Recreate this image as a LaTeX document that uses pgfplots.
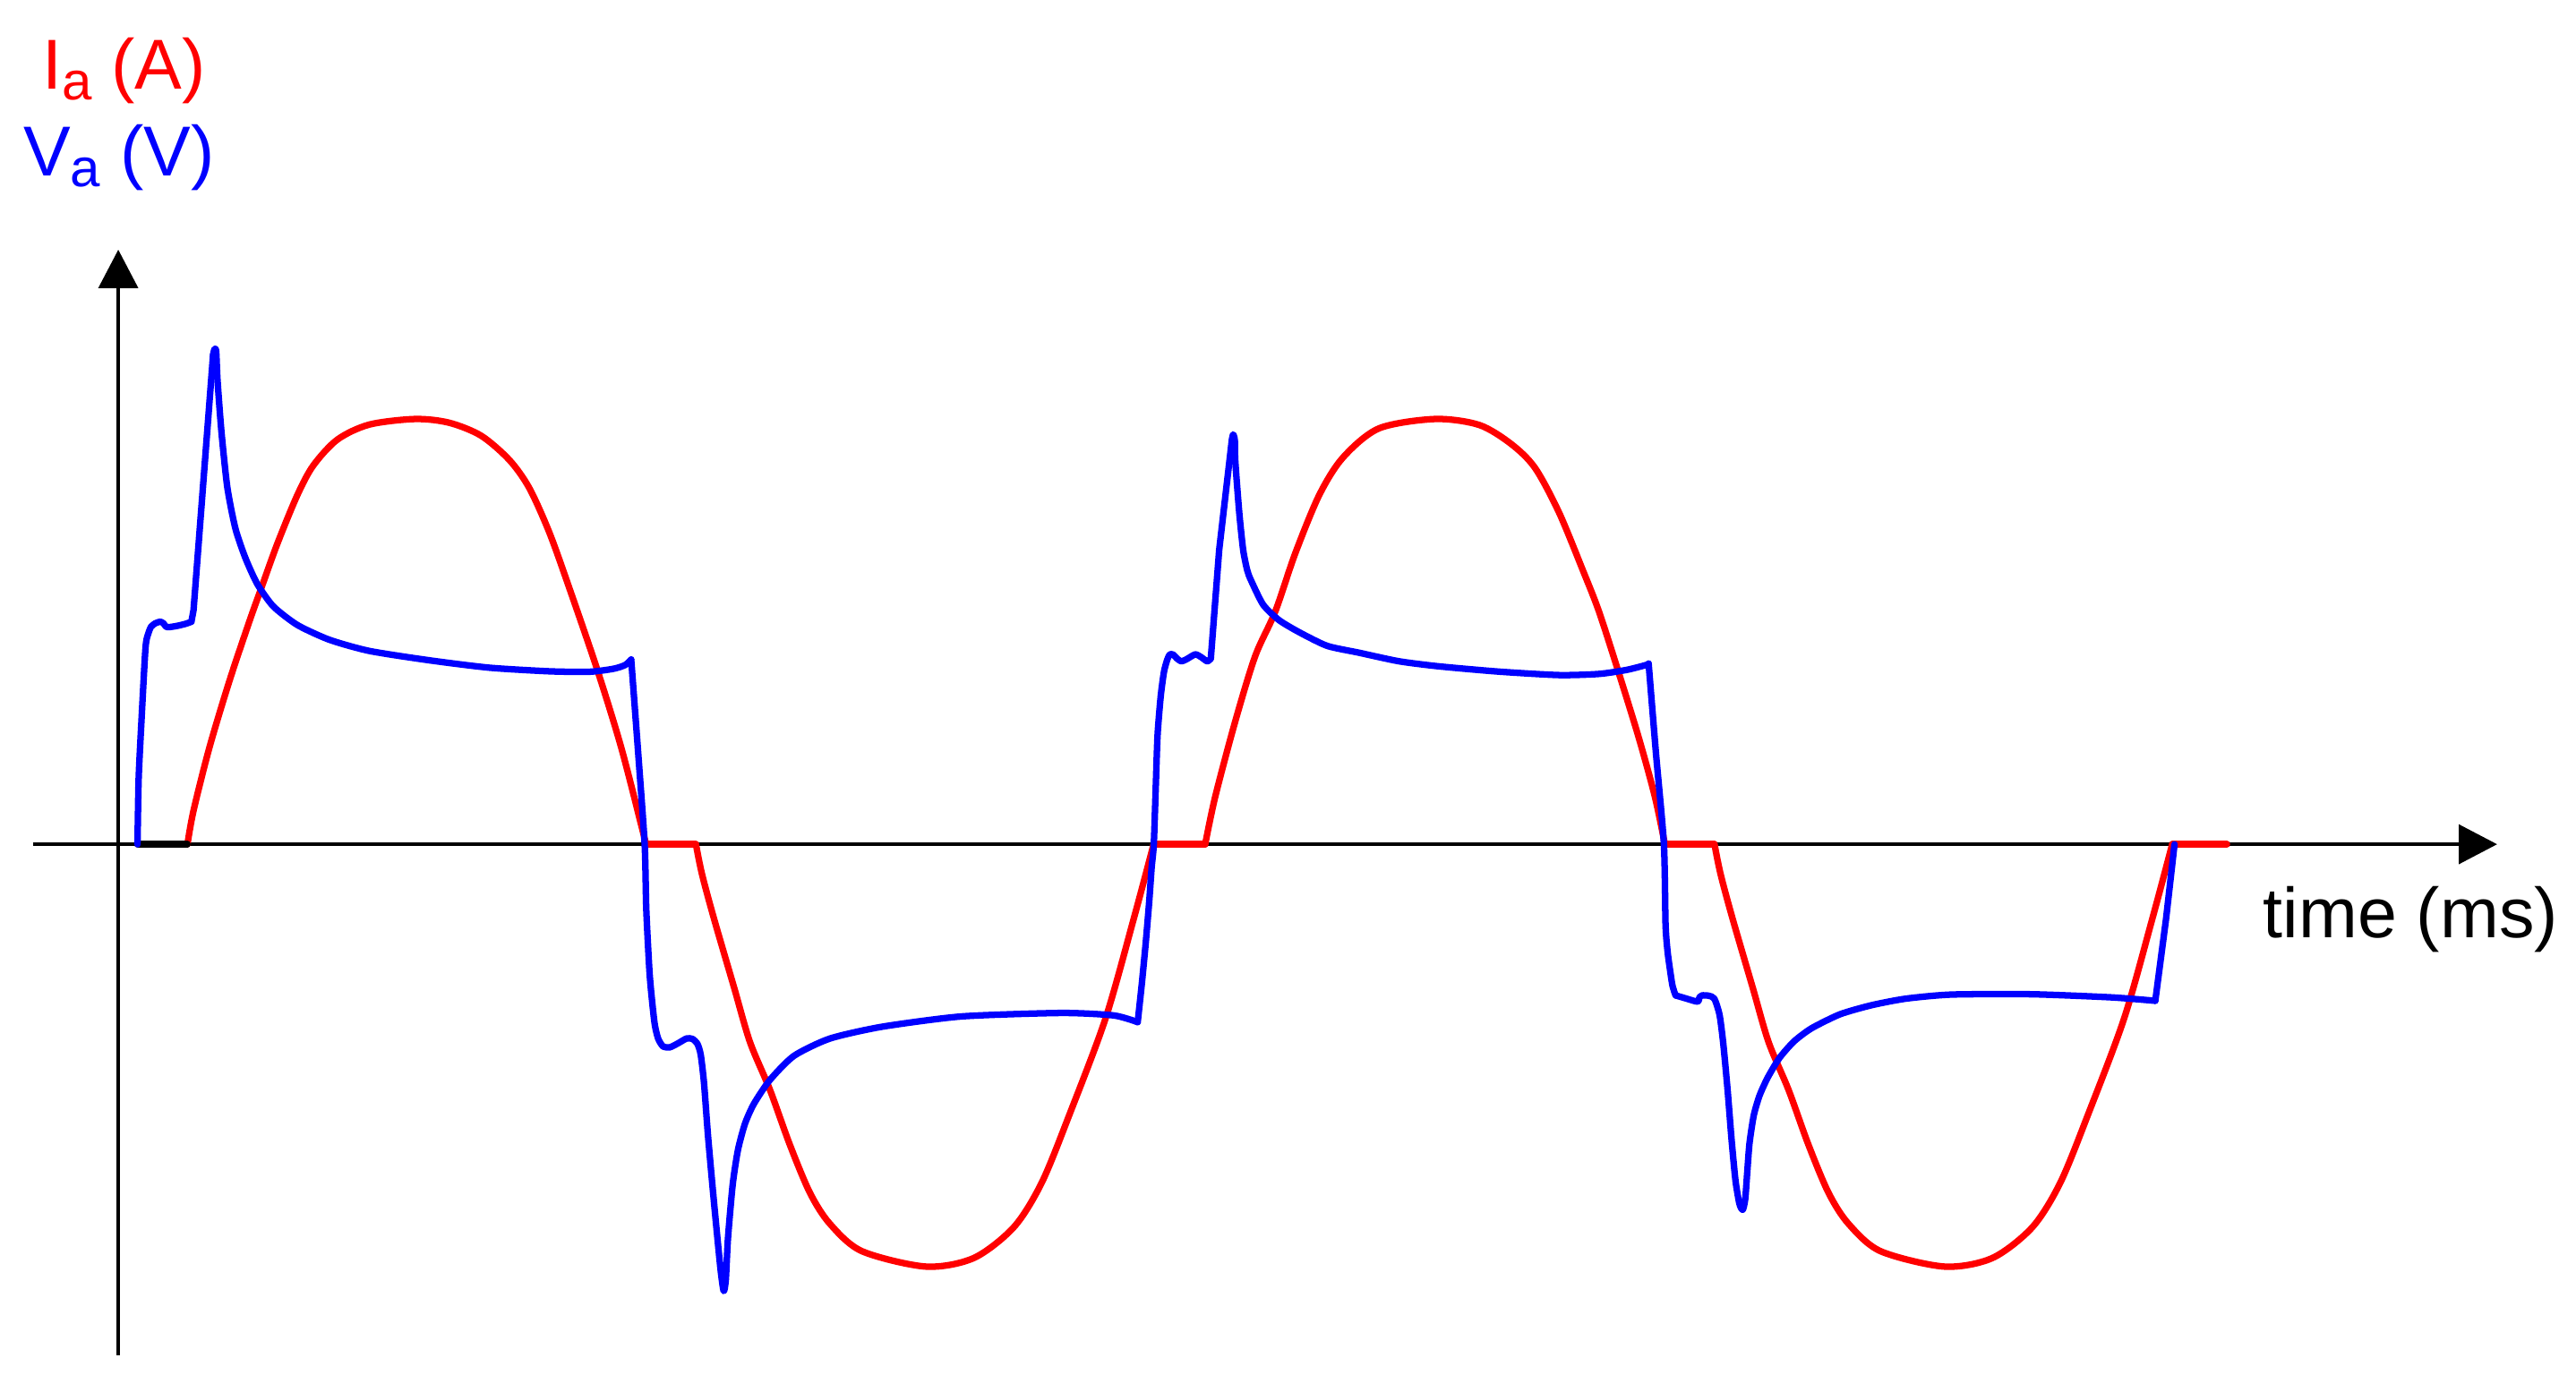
\documentclass[border=0pt]{standalone}
\usepackage{pgfplots}
\pgfplotsset{compat=1.18}
\usepackage{fontspec}
\setmainfont{Liberation Sans}
\usetikzlibrary{arrows.meta}

\begin{document}
\begin{tikzpicture}
\begin{axis}[
  scale only axis, width=16cm, height=8.541cm,
  xmin=0, xmax=1568, ymin=-323, ymax=514,
  hide axis, clip=false,
  every axis plot/.append style={line width=1.15pt, line join=round, line cap=round}]
% keep the whole frame in the page
\path (axis cs:0,-323) rectangle (axis cs:1568,514);

% axes with arrows
\draw[line width=0.75pt,-{Triangle[length=6.8pt,width=6.9pt]}] (axis cs:20,0) -- (axis cs:1520,0);
\draw[line width=0.75pt,-{Triangle[length=6.8pt,width=6.9pt]}] (axis cs:72,-311) -- (axis cs:72,362);

% ---- current I_a (red) ----
\addplot[red, smooth] coordinates {
(114.1,0) (117.8,20.5) (127.5,59) (139.7,99.6) (151.8,135.7) (159.1,156.1)
(168.9,183.2) (181.0,212.6) (190.7,230.6) (205.4,246.4) (224.8,255.5)
(252.8,258.9) (273.5,256.6) (292.9,248.7) (310.0,234) (322.1,217)
(334.3,190) (346.5,156.1) (363.5,106.4) (378.1,59) (391.5,7) (393.2,0)};
\addplot[red] coordinates {(393.2,0) (423.6,0)};
\addplot[red, smooth] coordinates {
(423.6,0) (427.3,-18.2) (434.6,-45.3) (446.8,-87.1) (456.5,-120.4)
(468.7,-149.6) (480.8,-183) (493.0,-212.2) (505.1,-231) (524.6,-247.7)
(563.5,-257.1) (592.7,-251.9) (617.1,-233.1) (634.1,-206) (651.1,-164.2)
(673.0,-105.8) (690.1,-45.3) (702.2,0)};
\addplot[red] coordinates {(702.2,0) (733.6,0)};
\addplot[red, smooth] coordinates {
(733.6,0) (739.7,29) (751.9,74.9) (764.0,114.5) (776.2,141.6) (788.4,177.1)
(803.0,212.6) (817.5,235.5) (839.4,253.2) (873.5,258.9) (900.3,255.3)
(919.7,243.8) (934.3,229.2) (948.9,202.1) (963.5,166.7) (973.3,141.6)
(985.4,104.1) (997.6,64.5) (1007.3,29) (1013.4,0)};
\addplot[red] coordinates {(1013.4,0) (1043.6,0)};
\addplot[red, smooth] coordinates {
(1043.6,0) (1047.3,-18.2) (1054.6,-45.3) (1066.8,-87.1) (1076.5,-120.4)
(1088.7,-149.6) (1100.8,-183) (1113.0,-212.2) (1125.1,-231) (1144.6,-247.7)
(1183.5,-257.1) (1212.7,-251.9) (1237.1,-233.1) (1254.1,-206) (1271.1,-164.2)
(1293.0,-105.8) (1310.1,-45.3) (1322.2,0)};
\addplot[red] coordinates {(1322.2,0) (1355.5,0)};

% zero-current interval at start
\addplot[black] coordinates {(83.7,0) (114.1,0)};

% ---- voltage V_a (blue) ----
\addplot[blue, smooth, tension=0.4] coordinates {
(83.7,0) (84.4,40) (86.1,75) (88.6,120) (90.5,129) (92,132.5) (94.5,134.5)
(97.5,135.5) (99.5,134.5) (101,132.5) (103,132.2) (108,133) (113,134.2) (116.5,135.5)};
\addplot[blue] coordinates {(116.5,135.5) (117.8,142.5) (129.7,298)};
\addplot[blue, smooth, tension=0.4] coordinates {
(129.7,298) (130.6,301.5) (131.6,300) (132.4,282.6) (134.8,251) (138.4,217.1)
(143.3,192.2) (149.4,174.2) (156.7,158.3) (166.4,144.8) (181.0,133.5)
(200.5,124.5) (224.8,117.7) (261.3,112) (297.8,107.5) (334.3,105.3)
(358.6,105) (373.2,106.8) (380.5,109.1) (384.2,112.5)};
\addplot[blue, smooth, tension=0.4] coordinates {
(384.2,112.5) (388.5,55) (392.4,0) (393.4,-40) (395.5,-80) (398.3,-108)
(400.5,-118) (403.5,-123) (407.8,-123.6) (413,-121) (418,-118.2) (421.5,-118.5)
(424.5,-121.5) (426.5,-128) (428.5,-145) (431,-178) (434.6,-218) (438.5,-258)
(440.5,-272) (441.8,-265) (443.1,-240) (446,-207) (449.2,-186) (453.5,-170)
(458.9,-158) (468.7,-143.4) (483.3,-128.8) (505.1,-118.3) (536.8,-111.1)
(585.4,-104.8) (646.3,-102.7) (677.9,-104.2) (692.5,-108.3)};
\addplot[blue, smooth, tension=0.4] coordinates {
(692.5,-108.3) (695,-85) (697.4,-59.9) (699.5,-35) (701,-14) (702.3,0)
(703.5,35) (704.6,66.5) (706.5,90) (708.5,105) (710.5,112.4) (712,115.5)
(714,115.5) (716.5,113) (719,111.4) (722,112.5) (727.5,115.6) (731,114)
(734.8,111.4) (737,113)};
\addplot[blue] coordinates {(737,113) (742.1,179.2) (749.8,246)};
\addplot[blue, smooth, tension=0.4] coordinates {
(749.8,246) (750.6,249.5) (751.6,246) (751.9,233.4) (754.3,202.1)
(756.7,179.2) (759.2,166.7) (761.6,160.4) (768.9,145.8) (778.6,136.4)
(790.8,129.1) (807.8,120.8) (827.3,116.6) (851.6,111.4) (876.0,108.3)
(912.4,105.1) (949.0,103.0) (973.3,103.7) (990.3,106.2) (1002.5,109.3) (1003.5,110)};
\addplot[blue, smooth, tension=0.4] coordinates {
(1003.5,110) (1008,55) (1012.8,0) (1013.8,-48.9) (1015,-65) (1016.3,-74.9)
(1018,-86) (1019.9,-92)};
\addplot[blue, smooth, tension=0.4] coordinates {
(1019.9,-92) (1026,-93.8) (1033.3,-95.8) (1034.5,-93) (1036,-92) (1040,-92.2)
(1043.5,-94) (1046.7,-104) (1049,-122) (1051.6,-150) (1054,-180) (1056.4,-205)
(1058.8,-219) (1060.8,-222.5) (1062.3,-216) (1063.5,-200) (1064.9,-182)
(1067.5,-165) (1071,-153) (1076,-142) (1083.2,-130) (1092,-120) (1102.7,-112)
(1120,-103.5) (1139.1,-98) (1160,-94) (1187.8,-91.5) (1236.5,-91.3)
(1285.1,-93.2) (1311.9,-95.3)};
\addplot[blue] coordinates {(1311.9,-95.3) (1318.5,-45) (1323.6,0)};

% labels
\node[anchor=base west, inner sep=0pt, text=red, font=\fontsize{12.5}{15}\selectfont]
  at (axis cs:25,459.5) {I{\fontsize{9.5}{10}\selectfont\raisebox{-1.9pt}{a}} (A)};
\node[anchor=base west, inner sep=0pt, text=blue, font=\fontsize{12.5}{15}\selectfont]
  at (axis cs:13.5,407) {V{\fontsize{9.5}{10}\selectfont\raisebox{-1.9pt}{a}} (V)};
\node[anchor=base west, inner sep=0pt, font=\fontsize{12.5}{15}\selectfont]
  at (axis cs:1377,-57) {time (ms)};
\end{axis}
\end{tikzpicture}
\end{document}
